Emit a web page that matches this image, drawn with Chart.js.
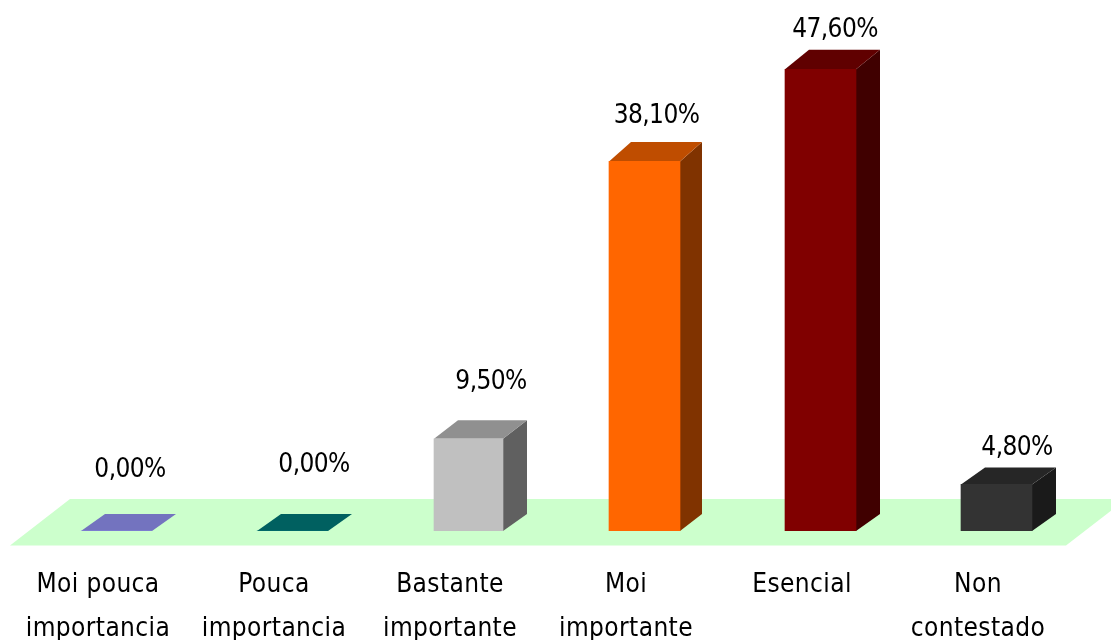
<!DOCTYPE html>
<html>
<head>
<meta charset="utf-8">
<title>Importancia</title>
<script src="https://cdn.jsdelivr.net/npm/chart.js@4/dist/chart.umd.min.js"></script>
<style>
  html, body { margin: 0; padding: 0; background: #ffffff; overflow: hidden; }
  canvas { display: block; }
</style>
</head>
<body>
<canvas id="chart" width="1111" height="640"></canvas>
<script>
const categories = [
  ["Moi pouca", "importancia"],
  ["Pouca", "importancia"],
  ["Bastante", "importante"],
  ["Moi", "importante"],
  ["Esencial"],
  ["Non", "contestado"],
];
const values = [0, 0, 9.5, 38.1, 47.6, 4.8];

const frontColors = ["#9999ff", "#008080", "#c0c0c0", "#ff6600", "#800000", "#333333"];
const topColors = ["#7373bf", "#006060", "#909090", "#bf4d00", "#600000", "#262626"];
const sideColors = ["#5c5c99", "#004d4d", "#606060", "#803300", "#400000", "#1a1a1a"];

// hand placed labels, offset from the front face top centre
const labelDx = [13.5, 21.5, 22.5, 12, 14.5, 20.5];
const labelDy = [-60.5, -65.5, -56.5, -45, -39, -36];
const depthTop = [17, 17, 18.5, 19.5, 19.6, 17];
const depthRight = [24, 24, 24, 22, 24, 24];
const barWidths = [71, 71, 69, 71, 71, 71];

const FONT = '"DejaVu Sans Condensed", "DejaVu Sans", sans-serif';
const shiftX = 18.5; // bars sit this far right of their tick
const depthBase = 17;

const bars3d = {
  id: "bars3d",
  afterDatasetsUpdate(chart) {
    chart.getDatasetMeta(0).data.forEach((bar, i) => {
      bar.width = barWidths[i];
    });
  },
  beforeDraw(chart) {
    chart.ctx.letterSpacing = "0.4px";
  },
  beforeDatasetsDraw(chart) {
    const { ctx, chartArea } = chart;
    const base = chart.scales.y.getPixelForValue(0);

    // floor
    ctx.save();
    ctx.fillStyle = "#ccffcc";
    ctx.beginPath();
    ctx.moveTo(chartArea.left, base + 14.5);
    ctx.lineTo(chartArea.right, base + 14.5);
    ctx.lineTo(chartArea.right + 60, base - 32);
    ctx.lineTo(chartArea.left + 60, base - 32);
    ctx.closePath();
    ctx.fill();

    ctx.translate(shiftX, 0);
    chart.getDatasetMeta(0).data.forEach((bar, i) => {
      const half = bar.width / 2;
      const l = bar.x - half;
      const r = bar.x + half;
      const dx = depthRight[i];
      ctx.fillStyle = sideColors[i];
      ctx.beginPath();
      ctx.moveTo(r, base);
      ctx.lineTo(r + dx, base - depthBase);
      ctx.lineTo(r + dx, bar.y - depthTop[i]);
      ctx.lineTo(r, bar.y);
      ctx.closePath();
      ctx.fill();
      ctx.fillStyle = topColors[i];
      ctx.beginPath();
      ctx.moveTo(l, bar.y);
      ctx.lineTo(r, bar.y);
      ctx.lineTo(r + dx, bar.y - depthTop[i]);
      ctx.lineTo(l + dx, bar.y - depthTop[i]);
      ctx.closePath();
      ctx.fill();
    });
    // left open, restored after the front faces are drawn
  },
  afterDatasetsDraw(chart) {
    const { ctx } = chart;
    ctx.restore();
    ctx.save();
    ctx.fillStyle = "#000000";
    ctx.font = "26px " + FONT;
    ctx.letterSpacing = "-0.6px";
    ctx.textAlign = "center";
    ctx.textBaseline = "middle";
    chart.getDatasetMeta(0).data.forEach((bar, i) => {
      const text = values[i].toFixed(2).replace(".", ",") + "%";
      ctx.fillText(text, bar.x + shiftX + labelDx[i], bar.y + labelDy[i]);
    });
    ctx.restore();
  },
};

new Chart(document.getElementById("chart").getContext("2d"), {
  type: "bar",
  data: {
    labels: categories,
    datasets: [
      {
        data: values,
        backgroundColor: frontColors,
        borderWidth: 0,
        barThickness: 71,
      },
    ],
  },
  options: {
    responsive: false,
    animation: false,
    layout: { padding: { left: 10, right: 45, top: 46, bottom: 0 } },
    plugins: { legend: { display: false }, tooltip: { enabled: false } },
    scales: {
      x: {
        grid: { display: false, drawTicks: false },
        border: { display: false },
        afterFit(scale) {
          scale.height = 109;
          scale.paddingLeft = 0;
          scale.paddingRight = 0;
        },
        ticks: {
          autoSkip: false,
          maxRotation: 0,
          padding: 32,
          color: "#000000",
          font: { family: FONT, size: 26, lineHeight: 1.7 },
        },
      },
      y: {
        display: false,
        min: 0,
        max: 50,
      },
    },
  },
  plugins: [bars3d],
});
</script>
</body>
</html>
